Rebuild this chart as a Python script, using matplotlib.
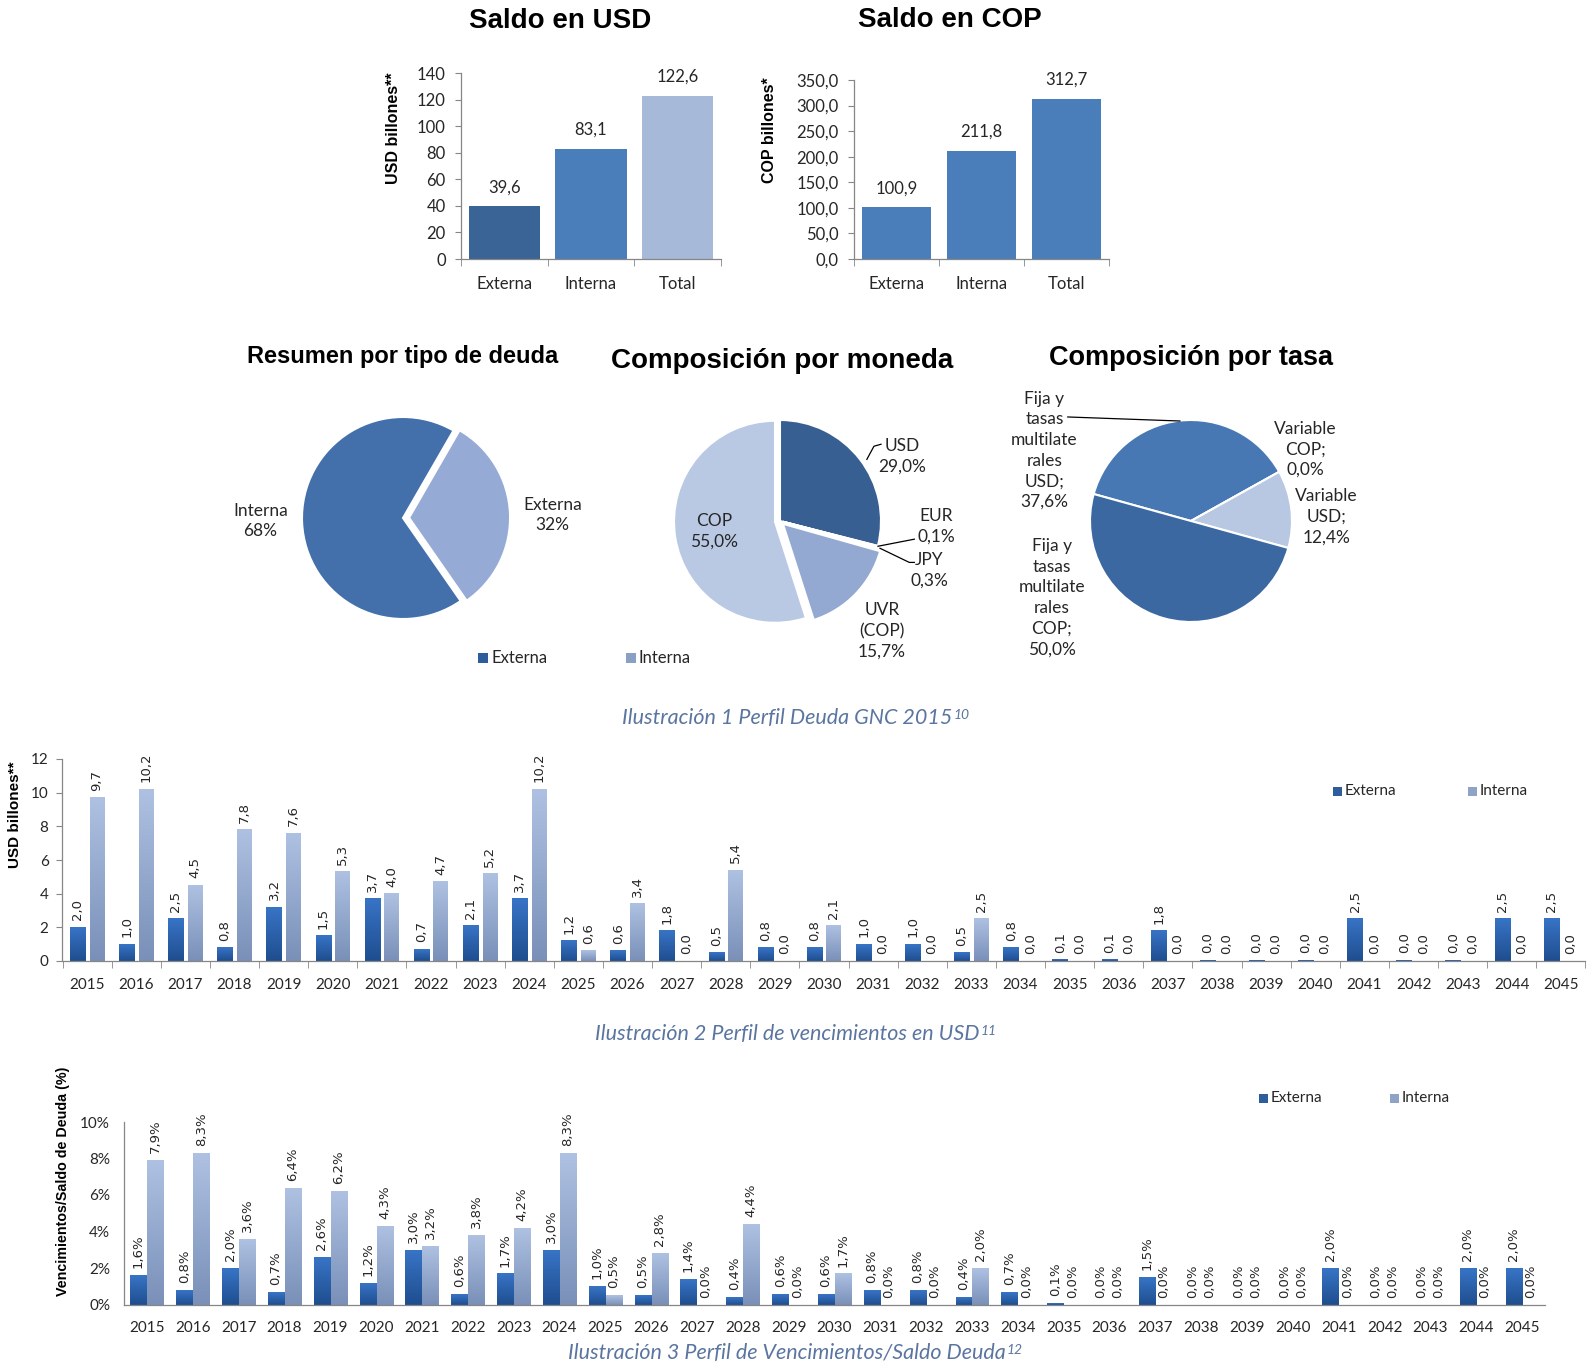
import matplotlib
matplotlib.use('Agg')
import matplotlib.pyplot as plt
from matplotlib.colors import LinearSegmentedColormap
from matplotlib.patches import Rectangle
import numpy as np

# Saldo de deuda
saldo_cats = ['Externa', 'Interna', 'Total']
saldo_usd = [39.6, 83.1, 122.6]
saldo_cop = [100.9, 211.8, 312.7]

# Tortas
tipo_labels = ['Externa\n32%', 'Interna\n68%']
tipo_pct = [32, 68]
moneda_labels = ['USD\n29,0%', 'EUR\n0,1%', 'JPY\n0,3%', 'UVR\n(COP)\n15,7%', 'COP\n55,0%']
moneda_pct = [29.0, 0.1, 0.3, 15.7, 55.0]
tasa_labels = ['Fija y\ntasas\nmultilate\nrales\nUSD;\n37,6%', 'Variable\nCOP;\n0,0%',
               'Variable\nUSD;\n12,4%', 'Fija y\ntasas\nmultilate\nrales\nCOP;\n50,0%']
tasa_pct = [37.6, 0.0, 12.4, 50.0]

# Perfil de vencimientos
years = [str(y) for y in range(2015, 2046)]
venc_ext = [2.0, 1.0, 2.5, 0.8, 3.2, 1.5, 3.7, 0.7, 2.1, 3.7, 1.2, 0.6, 1.8, 0.5, 0.8, 0.8,
            1.0, 1.0, 0.5, 0.8, 0.06, 0.06, 1.8, 0.04, 0.04, 0.04, 2.5, 0.04, 0.04, 2.5, 2.5]
venc_int = [9.7, 10.2, 4.5, 7.8, 7.6, 5.3, 4.0, 4.7, 5.2, 10.2, 0.6, 3.4, 0.0, 5.4, 0.0, 2.1,
            0.0, 0.0, 2.5, 0.0, 0.0, 0.0, 0.0, 0.0, 0.0, 0.0, 0.0, 0.0, 0.0, 0.0, 0.0]
ratio_ext = [1.6, 0.8, 2.0, 0.7, 2.6, 1.2, 3.0, 0.6, 1.7, 3.0, 1.0, 0.5, 1.4, 0.4, 0.6, 0.6,
             0.8, 0.8, 0.4, 0.7, 0.1, 0.0, 1.5, 0.0, 0.0, 0.0, 2.0, 0.0, 0.0, 2.0, 2.0]
ratio_int = [7.9, 8.3, 3.6, 6.4, 6.2, 4.3, 3.2, 3.8, 4.2, 8.3, 0.5, 2.8, 0.0, 4.4, 0.0, 1.7,
             0.0, 0.0, 2.0, 0.0, 0.0, 0.0, 0.0, 0.0, 0.0, 0.0, 0.0, 0.0, 0.0, 0.0, 0.0]

W, H = 1588, 1365
GRAY = '#868686'
TXT = '#262626'
CAP = '#5A75A0'
BASE_FONT = ['Lato', 'DejaVu Sans']
TITLE_FONT = ['Liberation Sans', 'DejaVu Sans']

plt.rcParams['font.family'] = BASE_FONT
fig = plt.figure(figsize=(W / 100, H / 100), dpi=100)


def px_axes(left, top, right, bottom):
    return fig.add_axes([left / W, 1 - bottom / H, (right - left) / W, (bottom - top) / H])


def fig_text(x, y, s, **kw):
    return fig.text(x / W, 1 - y / H, s, **kw)


def comma(v, fmt='{:.1f}'):
    return fmt.format(v).replace('.', ',')


def style_bar_axes(ax, cats, ylim, yticks, yfmt, size, xpad, ylen=4, ypad=6):
    for s in ['top', 'right']:
        ax.spines[s].set_visible(False)
    for s in ['left', 'bottom']:
        ax.spines[s].set_color(GRAY)
        ax.spines[s].set_linewidth(0.9)
    n = len(cats)
    ax.set_xticks(np.arange(n))
    ax.set_xticklabels(cats)
    ax.set_xticks(np.arange(-0.5, n, 1.0), minor=True)
    ax.set_xlim(-0.5, n - 0.5)
    ax.set_ylim(*ylim)
    ax.set_yticks(yticks)
    ax.set_yticklabels([yfmt(v) for v in yticks])
    ax.tick_params(axis='x', which='major', length=0, pad=xpad, labelsize=size, labelcolor=TXT)
    ax.tick_params(axis='x', which='minor', length=5, color=GRAY, direction='out')
    ax.tick_params(axis='y', length=ylen, color=GRAY, pad=ypad, labelsize=size, labelcolor=TXT)
    ax.patch.set_visible(False)


grad = np.linspace(0, 1, 64).reshape(-1, 1)


def gradient_bars(ax, bars, cmap):
    for bar in bars:
        x, w, h = bar.get_x(), bar.get_width(), bar.get_height()
        if h <= 0:
            continue
        ax.imshow(grad, extent=(x, x + w, 0, h), origin='lower', cmap=cmap,
                  aspect='auto', zorder=2, interpolation='bilinear')
        bar.set_visible(False)


def legend_item(x, y, color, label, size=10, fs=11):
    fig.add_artist(Rectangle((x / W, 1 - (y + size / 2) / H), size / W, size / H,
                             transform=fig.transFigure, facecolor=color, edgecolor='none'))
    fig_text(x + size + 3, y, label, ha='left', va='center', fontsize=fs, color=TXT)


def caption(x, y, text, sup):
    t = fig_text(x - 8, y, text, ha='center', va='center', fontsize=15.5, style='italic',
                 color=CAP)
    bb = t.get_window_extent(fig.canvas.get_renderer())
    fig.text((bb.x1 + 1) / W, (bb.y1 - 1) / H, sup, ha='left', va='top', fontsize=10,
             style='italic', color=CAP)


def bar_labels(ax, xs, vals, suffix=''):
    for xi, v in zip(xs, vals):
        ax.annotate(comma(v) + suffix, (xi, v), xytext=(0, 5), textcoords='offset points',
                    rotation=90, ha='center', va='bottom', fontsize=9.5,
                    family='DejaVu Sans', color=TXT)


# ---- Saldo en USD ----
ax = px_axes(461, 73, 721, 259)
ax.bar(range(3), saldo_usd, width=0.82, color=['#3A6396', '#4A7EBB', '#A7B9D9'], zorder=2)
style_bar_axes(ax, saldo_cats, (0, 140), range(0, 141, 20), lambda v: f'{v:d}', 12, 12, ypad=7)
for i, v in enumerate(saldo_usd):
    ax.annotate(comma(v), (i, v), xytext=(0, 8), textcoords='offset points',
                ha='center', va='bottom', fontsize=12, color=TXT)
fig_text(560, 21, 'Saldo en USD', ha='center', va='center', fontsize=20, fontweight='bold',
         family=TITLE_FONT, color='black')
fig_text(393, 128, 'USD billones**', ha='center', va='center', rotation=90, fontsize=11.5,
         fontweight='bold', family=TITLE_FONT, color='black')

# ---- Saldo en COP ----
ax = px_axes(854, 80, 1109, 259)
ax.bar(range(3), saldo_cop, width=0.82, color='#4A7EBB', zorder=2)
style_bar_axes(ax, saldo_cats, (0, 350), np.arange(0, 351, 50), lambda v: comma(v), 12, 12, ypad=7)
for i, v in enumerate(saldo_cop):
    ax.annotate(comma(v), (i, v), xytext=(0, 8), textcoords='offset points',
                ha='center', va='bottom', fontsize=12, color=TXT)
fig_text(950, 20, 'Saldo en COP', ha='center', va='center', fontsize=20, fontweight='bold',
         family=TITLE_FONT, color='black')
fig_text(770, 130, 'COP billones*', ha='center', va='center', rotation=90, fontsize=11.5,
         fontweight='bold', family=TITLE_FONT, color='black')


def pie_axes(cx, cy, r):
    a = px_axes(cx - 1.6 * r, cy - 1.6 * r, cx + 1.6 * r, cy + 1.6 * r)
    return a


def finish_pie(a):
    a.set_xlim(-1.6, 1.6)
    a.set_ylim(-1.6, 1.6)
    a.axis('off')


PIE_TXT = dict(ha='center', va='center', fontsize=12.5, color=TXT, linespacing=1.35)

# ---- Resumen por tipo de deuda ----
ax = pie_axes(403, 518, 101)
ax.pie(tipo_pct, colors=['#95ABD6', '#4370AA'], startangle=60, counterclock=False,
       explode=[0.06, 0], wedgeprops=dict(edgecolor='white', linewidth=1.5))
finish_pie(ax)
ax.text(1.48, 0.03, tipo_labels[0], **PIE_TXT)
ax.text(-1.41, -0.03, tipo_labels[1], **PIE_TXT)
fig_text(403, 357, 'Resumen por tipo de deuda', ha='center', va='center', fontsize=17,
         fontweight='bold', family=TITLE_FONT, color='black')
legend_item(478, 658, '#2E5D9C', 'Externa', size=10, fs=12)
legend_item(626, 658, '#8A9FC4', 'Interna', size=10, fs=12)

# ---- Composición por moneda ----
ax = pie_axes(780, 521, 101)
ax.pie(moneda_pct, colors=['#375F92', '#4A7EBB', '#4A7EBB', '#93A9D2', '#B9C9E3'],
       startangle=90, counterclock=False, explode=[0, 0.03, 0.03, 0.04, 0.05],
       wedgeprops=dict(edgecolor='white', linewidth=1.5))
finish_pie(ax)
ax.text(1.21, 0.64, moneda_labels[0], **PIE_TXT)
ax.text(1.55, -0.05, moneda_labels[1], **PIE_TXT)
ax.text(1.48, -0.49, moneda_labels[2], **PIE_TXT)
ax.text(1.01, -1.09, moneda_labels[3], **PIE_TXT)
ax.text(-0.65, -0.10, moneda_labels[4], **PIE_TXT)
ax.plot([0.86, 0.93, 1.0], [0.61, 0.74, 0.76], color='black', lw=0.9, clip_on=False)
ax.plot([0.97, 1.33], [-0.25, -0.18], color='black', lw=0.9, clip_on=False)
ax.plot([0.99, 1.28, 1.33], [-0.27, -0.41, -0.41], color='black', lw=0.9, clip_on=False)
fig_text(782, 361, 'Composición por moneda', ha='center', va='center', fontsize=20,
         fontweight='bold', family=TITLE_FONT, color='black')

# ---- Composición por tasa ----
ax = pie_axes(1191, 521, 101)
ax.pie(tasa_pct, colors=['#4878B4', '#4A7EBB', '#B9C8E2', '#3C68A2'], startangle=164.5,
       counterclock=False, wedgeprops=dict(edgecolor='white', linewidth=1.5))
finish_pie(ax)
ax.text(-1.45, 0.70, tasa_labels[0], **PIE_TXT)
ax.text(1.13, 0.71, tasa_labels[1], **PIE_TXT)
ax.text(1.34, 0.04, tasa_labels[2], **PIE_TXT)
ax.text(-1.38, -0.76, tasa_labels[3], **PIE_TXT)
ax.plot([-1.22, -0.11], [1.03, 0.99], color='black', lw=0.9, clip_on=False)
fig_text(1191, 358, 'Composición por tasa', ha='center', va='center', fontsize=19.5,
         fontweight='bold', family=TITLE_FONT, color='black')

caption(795, 718, 'Ilustración 1 Perfil Deuda GNC 2015', '10')

ext_cmap = LinearSegmentedColormap.from_list('ext', ['#1F4E8F', '#3874C6'])
int_cmap = LinearSegmentedColormap.from_list('int', ['#7A90B8', '#AEC1E2'])

# ---- Perfil de vencimientos en USD ----
ax = px_axes(62.5, 759, 1585.5, 961)
x = np.arange(len(years))
b_ext = ax.bar(x - 0.19, venc_ext, width=0.32)
b_int = ax.bar(x + 0.2, venc_int, width=0.30)
gradient_bars(ax, b_ext, ext_cmap)
gradient_bars(ax, b_int, int_cmap)
style_bar_axes(ax, years, (0, 12), range(0, 13, 2), lambda v: f'{v:d}', 11, 12, ypad=6)
bar_labels(ax, x - 0.19, venc_ext)
bar_labels(ax, x + 0.2, venc_int)
fig_text(15, 815, 'USD billones**', ha='center', va='center', rotation=90, fontsize=11,
         fontweight='bold', family=TITLE_FONT, color='black')
legend_item(1333, 791, '#2E5D9C', 'Externa', size=9, fs=11)
legend_item(1468, 791, '#8FA3C6', 'Interna', size=9, fs=11)

caption(795, 1034, 'Ilustración 2 Perfil de vencimientos en USD', '11')

# ---- Vencimientos / Saldo de deuda ----
ax = px_axes(124, 1122, 1545, 1304.5)
b_ext = ax.bar(x - 0.185, ratio_ext, width=0.35)
b_int = ax.bar(x + 0.185, ratio_int, width=0.35)
gradient_bars(ax, b_ext, ext_cmap)
gradient_bars(ax, b_int, int_cmap)
style_bar_axes(ax, years, (0, 10), range(0, 11, 2), lambda v: f'{v:d}%', 11, 12, ylen=0, ypad=10)
ax.tick_params(axis='x', which='minor', length=0)
bar_labels(ax, x - 0.185, ratio_ext, '%')
bar_labels(ax, x + 0.185, ratio_int, '%')
fig_text(63, 1181, 'Vencimientos/Saldo de Deuda (%)', ha='center', va='center', rotation=90,
         fontsize=10.3, fontweight='bold', family=TITLE_FONT, color='black')
legend_item(1259, 1098, '#2E5D9C', 'Externa', size=9, fs=11)
legend_item(1390, 1098, '#8FA3C6', 'Interna', size=9, fs=11)

caption(795, 1353, 'Ilustración 3 Perfil de Vencimientos/Saldo Deuda', '12')

fig.savefig('out.png', dpi=100)
